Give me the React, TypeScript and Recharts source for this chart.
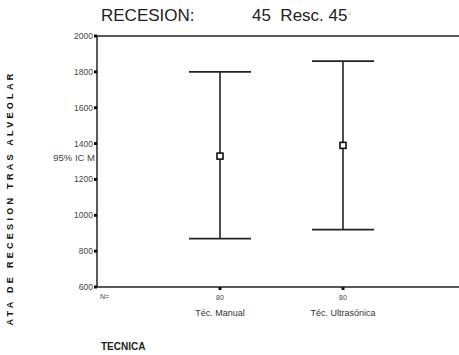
import { ComposedChart, Scatter, ErrorBar, XAxis, YAxis, ReferenceLine, Label } from 'recharts'

const categories = ['Téc. Manual', 'Téc. Ultrasónica']
const positions = [1, 2]
const counts = [80, 80]
const means = [1330, 1390]
const lower = [870, 920]
const upper = [1800, 1860]
const yTicks = [600, 800, 1000, 1200, 1400, 1600, 1800, 2000]

const data = categories.map((name, i) => ({
  name,
  x: positions[i],
  n: counts[i],
  mean: means[i],
  ci: [means[i] - lower[i], upper[i] - means[i]],
}))

const font = '"Liberation Sans", Arial, sans-serif'

const MeanMarker = (props: any) => {
  const { cx, cy } = props
  return <rect x={cx - 3} y={cy - 3} width={6} height={6} fill="#fff" stroke="#111" strokeWidth={1.6} />
}

const CategoryTick = (props: any) => {
  const { x, y, payload, index } = props
  return (
    <g>
      <text x={x} y={y + 8} textAnchor="middle" fontSize={7} fill="#444" fontFamily={font}>
        {counts[index]}
      </text>
      <text x={x} y={y + 24} textAnchor="middle" fontSize={9} fill="#333" fontFamily={font}>
        {categories[positions.indexOf(payload.value)]}
      </text>
    </g>
  )
}

export default function App() {
  return (
    <div style={{ position: 'fixed', left: 0, top: 0, width: 459, height: 355, overflow: 'hidden', background: '#fff', fontFamily: font }}>
      <div style={{ position: 'absolute', left: 101, top: 6, fontSize: 17, lineHeight: '20px', color: '#222' }}>RECESION:</div>
      <div style={{ position: 'absolute', left: 252, top: 6, fontSize: 17, lineHeight: '20px', color: '#222', whiteSpace: 'nowrap' }}>
        45&nbsp;&nbsp;Resc. 45<span style={{ fontSize: 9, color: '#aaa', verticalAlign: 'top' }}>°</span>
      </div>
      <div style={{ position: 'absolute', left: 101, top: 341, fontSize: 10, lineHeight: '12px', fontWeight: 'bold', color: '#222' }}>TECNICA</div>
      <ComposedChart width={470} height={355} margin={{ top: 36, right: 4, bottom: 0, left: 0 }} data={data}>
        <XAxis
          dataKey="x"
          type="number"
          domain={[0, 3]}
          ticks={positions}
          height={68}
          axisLine={{ stroke: '#222', strokeWidth: 1.5 }}
          tickLine={{ stroke: '#111', strokeWidth: 3 }}
          tickSize={3}
          tick={<CategoryTick />}
          interval={0}
        >
          <Label
            content={(p: any) => (
              <text x={p.viewBox.x + 3} y={p.viewBox.y + 12} fontSize={7} fill="#444" fontFamily={font}>N=</text>
            )}
          />
        </XAxis>
        <YAxis
          type="number"
          domain={[600, 2000]}
          ticks={yTicks}
          width={97}
          axisLine={{ stroke: '#222', strokeWidth: 1.5 }}
          tickLine={{ stroke: '#111', strokeWidth: 3 }}
          tickSize={3}
          tick={{ fontSize: 8.5, fill: '#444', fontFamily: font }}
          tickMargin={1}
        >
          <Label
            content={(p: any) => (
              <text x={p.viewBox.x + p.viewBox.width - 2} y={p.viewBox.y + 125} textAnchor="end" fontSize={9.5} fill="#444" fontFamily={font}>
                95% IC M
              </text>
            )}
          />
          <Label
            content={(p: any) => (
              <text
                transform={`translate(${p.viewBox.x + 13}, ${p.viewBox.y + 162}) rotate(-90)`}
                textAnchor="middle"
                fontSize={9}
                fontWeight="bold"
                letterSpacing={3.3}
                fill="#111"
                fontFamily={font}
              >
                ATA DE RECESION TRAS ALVEOLAR
              </text>
            )}
          />
        </YAxis>
        <ReferenceLine y={2000} stroke="#222" strokeWidth={1.5} />
        <Scatter dataKey="mean" shape={<MeanMarker />} isAnimationActive={false}>
          <ErrorBar dataKey="ci" direction="y" width={31} stroke="#222" strokeWidth={1.6} isAnimationActive={false} />
        </Scatter>
      </ComposedChart>
    </div>
  )
}
